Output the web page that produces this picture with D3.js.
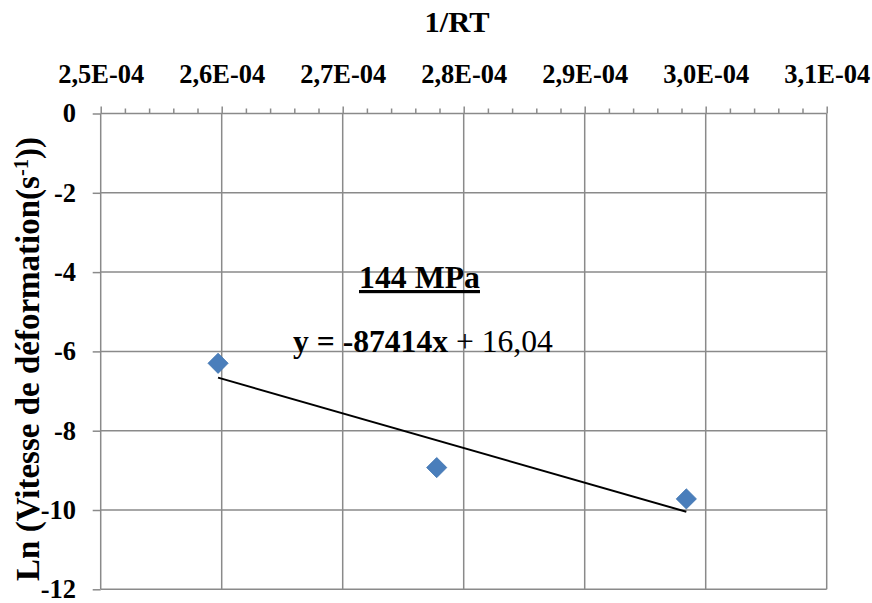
<!DOCTYPE html>
<html><head><meta charset="utf-8">
<script src="https://cdn.jsdelivr.net/npm/d3@7"></script>
<style>body{margin:0;background:#fff}svg{display:block}</style>
</head><body>
<svg id="c" width="872" height="603"></svg>
<script>
// Data
const xValues = [2.597e-4, 2.7777e-4, 2.984e-4];
const yValues = [-6.30, -8.93, -9.72];
const slope = -87414;
const intercept = 16.04;
const xTickValues = [2.5e-4, 2.6e-4, 2.7e-4, 2.8e-4, 2.9e-4, 3.0e-4, 3.1e-4];
const xTickLabels = ["2,5E-04","2,6E-04","2,7E-04","2,8E-04","2,9E-04","3,0E-04","3,1E-04"];
const yTickValues = [0, -2, -4, -6, -8, -10, -12];
const yTickLabels = ["0","-2","-4","-6","-8","-10","-12"];
const xTitle = "1/RT";
const annotation = "144 MPa";

// pick an installed serif font if any
const ctx = document.createElement("canvas").getContext("2d");
function has(f) {
  const s = "144 MPa Vitesse déformation 87414x";
  ctx.font = "bold 30px monospace"; const a = ctx.measureText(s).width;
  ctx.font = `bold 30px "${f}", monospace`; const b = ctx.measureText(s).width;
  ctx.font = "bold 30px sans-serif"; const c = ctx.measureText(s).width;
  ctx.font = `bold 30px "${f}", sans-serif`; const d = ctx.measureText(s).width;
  return a !== b || c !== d;
}
const cands = ["Liberation Serif", "Tinos", "Times New Roman", "Times", "DejaVu Serif", "Noto Serif", "FreeSerif", "Nimbus Roman", "Nimbus Roman No9 L", "Noto Serif CJK SC", "Liberation Sans"];
const found = cands.find(has);
const FONT = (found ? `"${found}", ` : "") + "serif";

const svg = d3.select("#c").style("font-family", FONT);
const L = 100.7, R = 826.7, T = 113.5, B = 589.3;
const x = d3.scaleLinear().domain([2.5e-4, 3.1e-4]).range([L, R]);
const y = d3.scaleLinear().domain([0, -12]).range([T, B]);
const grid = "#8a8a8a";

function scaleTo(node, target, base, maxS) {
  const w = node.getComputedTextLength();
  return w > 0 ? Math.min(maxS, base * target / w) : base;
}

// gridlines
const g = svg.append("g");
g.selectAll(".vg").data(xTickValues).join("line")
  .attr("x1", d => x(d)).attr("x2", d => x(d)).attr("y1", T).attr("y2", B)
  .attr("stroke", grid).attr("stroke-width", 1.5);
g.selectAll(".hg").data(yTickValues).join("line")
  .attr("x1", L).attr("x2", R).attr("y1", d => y(d)).attr("y2", d => y(d))
  .attr("stroke", grid).attr("stroke-width", 1.5);

// top axis with minor ticks
const minor = d3.range(0, 31).map(i => 2.5e-4 + i * 2e-6).filter((d, i) => i % 5 !== 0);
const ax = svg.append("g").attr("transform", `translate(0,${T})`);
ax.call(d3.axisTop(x).tickValues(minor).tickSize(5).tickFormat(""));
ax.select(".domain").remove();
const ax2 = svg.append("g").attr("transform", `translate(0,${T})`);
ax2.call(d3.axisTop(x).tickValues(xTickValues).tickSize(7).tickFormat((d, i) => xTickLabels[i]));
ax2.select(".domain").remove();
svg.selectAll("g .tick line").attr("stroke", grid).attr("stroke-width", 1.5);
const xtl = ax2.selectAll("text").attr("y", 0).attr("dy", null).attr("transform", `translate(0,${83 - T})`)
  .attr("font-size", 26).attr("font-weight", "bold").attr("fill", "#000")
  .style("font-family", FONT);
{
  const s = scaleTo(xtl.node(), 86, 26, 28);
  xtl.attr("font-size", s);
}

// left axis
const ay = svg.append("g").attr("transform", `translate(${L},0)`);
ay.call(d3.axisLeft(y).tickValues(yTickValues).tickSize(8).tickFormat((d, i) => yTickLabels[i]));
ay.select(".domain").remove();
ay.selectAll("line").attr("stroke", grid).attr("stroke-width", 1.5);
const ytl = ay.selectAll("text").attr("x", 76 - L).attr("dy", "0.32em")
  .attr("font-size", +xtl.attr("font-size")).attr("font-weight", "bold").attr("fill", "#000")
  .style("font-family", FONT);

// titles
const xt = svg.append("text").attr("x", 457).attr("y", 32).attr("text-anchor", "middle")
  .attr("font-size", 31).attr("font-weight", "bold").text(xTitle);
xt.attr("font-size", scaleTo(xt.node(), 65, 31, 33));

const yt = svg.append("text").attr("transform", "translate(39,359) rotate(-90)")
  .attr("text-anchor", "middle").attr("font-size", 31).attr("font-weight", "bold");
yt.append("tspan").text("Ln (Vitesse de déformation(s");
yt.append("tspan").attr("font-size", "0.62em").attr("dy", "-0.55em").text("-1");
yt.append("tspan").attr("dy", "0.34em").text("))");
yt.attr("font-size", scaleTo(yt.node(), 460, 31, 33));

// trendline
const x0 = d3.min(xValues), x1 = d3.max(xValues);
svg.append("line")
  .attr("x1", x(x0)).attr("y1", y(slope * x0 + intercept))
  .attr("x2", x(x1)).attr("y2", y(slope * x1 + intercept))
  .attr("stroke", "#000").attr("stroke-width", 2);

// points
const pts = xValues.map((d, i) => [d, yValues[i]]);
svg.selectAll(".pt").data(pts).join("path")
  .attr("d", d3.symbol(d3.symbolDiamond2, 260))
  .attr("transform", d => `translate(${x(d[0])},${y(d[1])})`)
  .attr("fill", "#4a7ebb").attr("stroke", "#3f73b0").attr("stroke-width", 0.8);

// annotations
const an = svg.append("text").attr("x", 359).attr("y", 288).attr("font-size", 31).attr("font-weight", "bold")
  .attr("text-decoration", "underline").text(annotation);
an.attr("font-size", scaleTo(an.node(), 121, 31, 33));
const eq = svg.append("text").attr("x", 293).attr("y", 352).attr("font-size", 31);
eq.append("tspan").attr("font-weight", "bold").text("y = -87414x");
eq.append("tspan").text(" + 16,04");
eq.attr("font-size", scaleTo(eq.node(), 260, 31, 33));
</script>
</body></html>
